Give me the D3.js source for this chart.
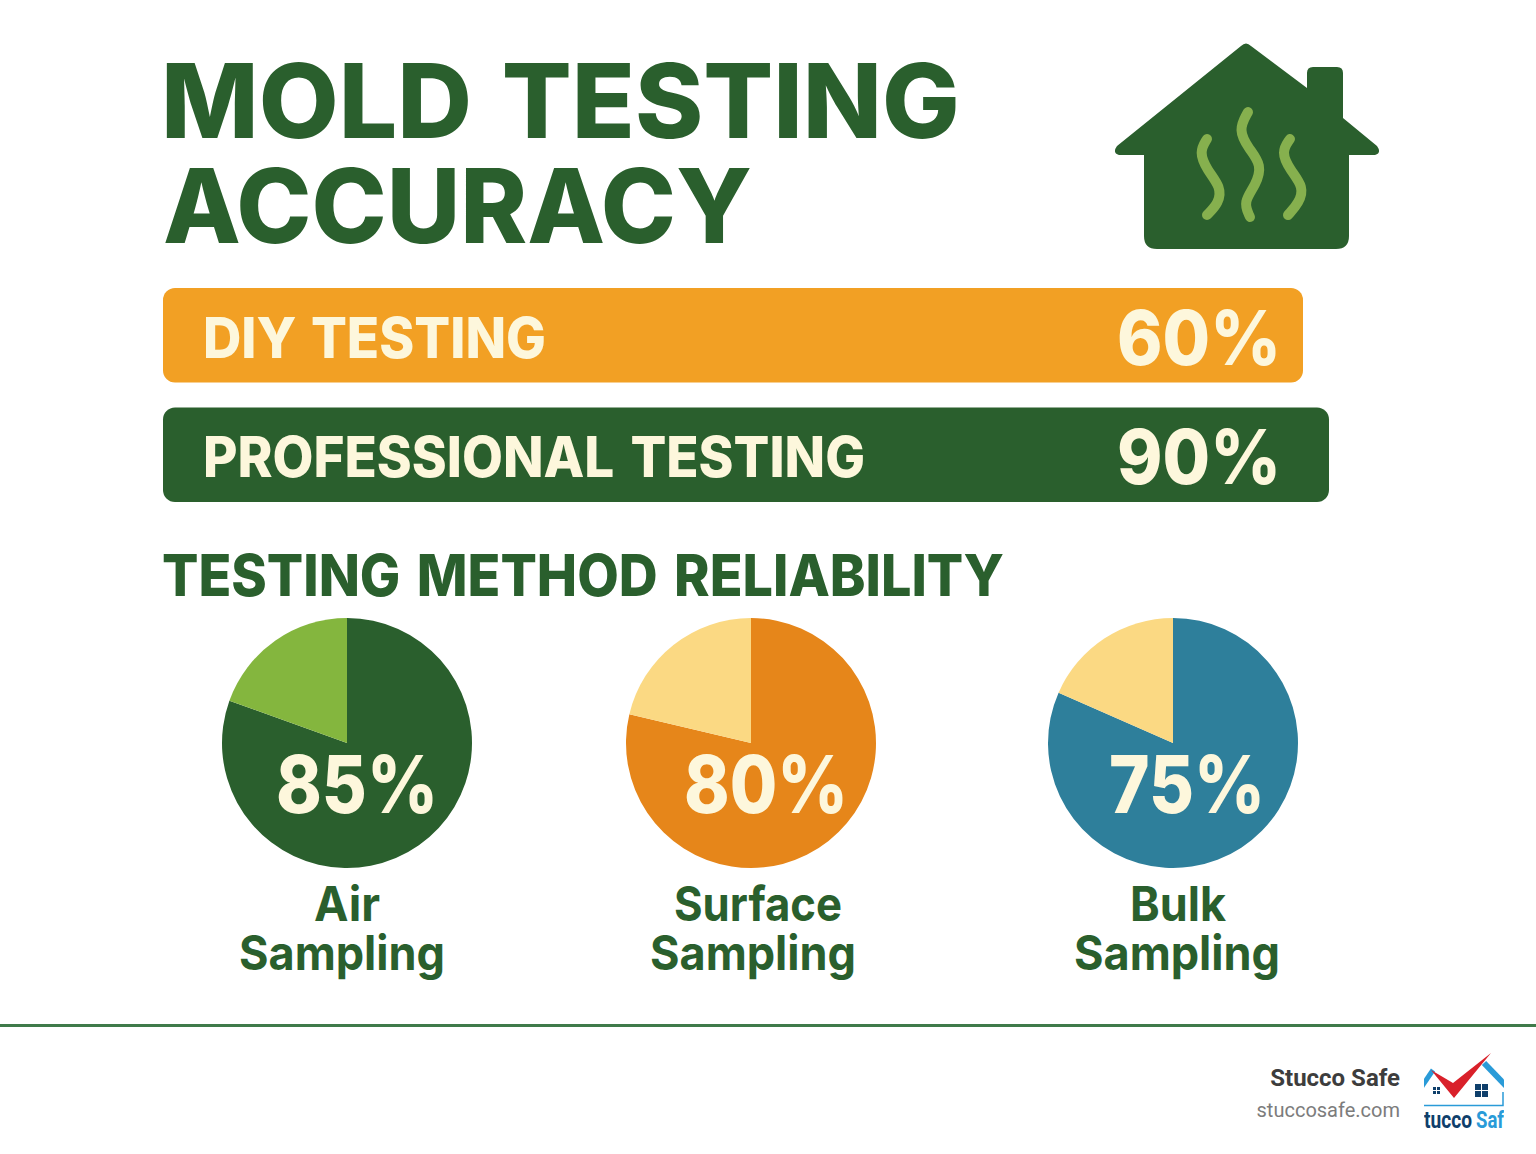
<!DOCTYPE html>
<html><head><meta charset="utf-8">
<script src="https://cdn.jsdelivr.net/npm/d3@7/dist/d3.min.js"></script>
<style>html,body{margin:0;padding:0;background:#fff}svg{display:block}text{font-family:Inter,sans-serif}</style>
</head><body><svg id="c" width="1536" height="1154"></svg>
<script>
const barLabels = ["DIY TESTING", "PROFESSIONAL TESTING"];
const barValues = [60, 90];
const pieNames = [["Air","Sampling"],["Surface","Sampling"],["Bulk","Sampling"]];
const pieLabels = [85, 80, 75];
const pieDrawnMajor = [80.5, 78.7, 81.6];

const GREEN="#2a5f2d", CREAM="#fdf7dc";
const svg=d3.select("#c");
svg.append("rect").attr("width",1536).attr("height",1154).attr("fill","#fff");

function fit(t,x0,x1,base,size,fill,weight,ws){
  return svg.append("text").attr("x",x0).attr("y",base).attr("font-size",size)
    .attr("font-weight",weight||800).attr("fill",fill).style("word-spacing",(ws||0)+"px")
    .attr("textLength",x1-x0).attr("lengthAdjust","spacingAndGlyphs").text(t);
}
fit("MOLD TESTING",161,960,138,103,GREEN,800,7);
fit("ACCURACY",163,752,243,103,GREEN);

// house icon
const house="M1241 46 Q1246 41 1251 46 L1307 88 L1307 73 Q1307 67 1313 67 L1337 67 Q1343 67 1343 73 L1343 118 L1377 146 Q1382 153 1375 155 L1349 155 L1349 236 Q1349 249 1336 249 L1157 249 Q1144 249 1144 236 L1144 155 L1119 155 Q1112 153 1117 146 Z";
svg.append("path").attr("d",house).attr("fill",GREEN);
const sq=[
 [[1207,139],[1199,152],[1207,170],[1221,187],[1219,203],[1207,215]],
 [[1248,112],[1238,130],[1249,149],[1262,165],[1256,185],[1243,202],[1250,217]],
 [[1290,139],[1281,152],[1290,170],[1304,187],[1299,203],[1288,215]]];
const ln=d3.line().curve(d3.curveBasis);
sq.forEach(p=>svg.append("path").attr("d",ln(p)).attr("fill","none").attr("stroke","#86b04e").attr("stroke-width",10).attr("stroke-linecap","round"));

// bars
const barEnd=d3.scaleLinear().domain([60,90]).range([1303,1329]);
const barY=d3.scaleBand().domain(barLabels).range([288,502]).paddingInner(0.21);
const barCols=["#f2a024",GREEN];
const lab=[[203,546,358,3],[203,865,477,5]];
barLabels.forEach((b,i)=>{
  svg.append("rect").attr("x",163).attr("y",barY(b)).attr("width",barEnd(barValues[i])-163)
    .attr("height",barY.bandwidth()).attr("rx",12).attr("fill",barCols[i]);
  fit(b,lab[i][0],lab[i][1],lab[i][2],56,CREAM,800,lab[i][3]);
  fit(barValues[i]+"%",1117,1281,lab[i][2]+7,76,CREAM);
});

fit("TESTING METHOD RELIABILITY",162,1004,596,58,GREEN,800,5);

// pies
const pieCx=d3.scaleOrdinal().domain([0,1,2]).range([347,751,1173]);
const pieCols=[[GREEN,"#84b63e"],["#e6861a","#fbd983"],["#2e7f9b","#fbd983"]];
const pie=d3.pie().sort(null);
const arc=d3.arc().innerRadius(0).outerRadius(125);
const pctX=[[276,438],[684,848],[1109,1265]];
const nameX=[[[314,380],[239,445]],[[674,842],[650,856]],[[1130,1226],[1074,1280]]];
pieLabels.forEach((v,i)=>{
  const g=svg.append("g").attr("transform",`translate(${pieCx(i)},743)`);
  g.selectAll("path").data(pie([pieDrawnMajor[i],100-pieDrawnMajor[i]])).join("path")
    .attr("d",arc).attr("fill",(d,j)=>pieCols[i][j]);
  fit(v+"%",pctX[i][0],pctX[i][1],813,80,CREAM);
  pieNames[i].forEach((n,k)=>fit(n,nameX[i][k][0],nameX[i][k][1],921+k*49,48,GREEN,700));
});

// footer
svg.append("rect").attr("x",0).attr("y",1024).attr("width",1536).attr("height",3).attr("fill","#3f7a4a");
svg.append("text").attr("x",1400).attr("y",1086).attr("text-anchor","end").attr("font-size",24)
  .attr("font-weight",700).attr("fill","#3d3d3d").style("font-family","Roboto").text("Stucco Safe");
svg.append("text").attr("x",1400).attr("y",1117).attr("text-anchor","end").attr("font-size",20)
  .attr("fill","#7c7c7c").style("font-family","Roboto").text("stuccosafe.com");

// logo
svg.append("clipPath").attr("id","lg").append("rect").attr("x",1424).attr("y",1050).attr("width",80).attr("height",90);
const L=svg.append("g").attr("clip-path","url(#lg)");
const BLUE="#2a9bd8",NAVY="#0f3f6b";
L.append("path").attr("d","M1418 1092 L1433 1070").attr("fill","none").attr("stroke",BLUE).attr("stroke-width",5);
L.append("path").attr("d","M1484 1063 L1510 1090").attr("fill","none").attr("stroke",BLUE).attr("stroke-width",6);
L.append("path").attr("d","M1431 1070 L1453 1083 L1491 1053 L1454 1098 Z").attr("fill","#d9202a");
L.append("path").attr("d","M1424 1105.5 L1503 1105.5 L1503 1092").attr("fill","none").attr("stroke",BLUE).attr("stroke-width",1.5);
[[1433,1087,7],[1475,1084,13]].forEach(w=>{
  L.append("rect").attr("x",w[0]).attr("y",w[1]).attr("width",w[2]).attr("height",w[2]).attr("fill",NAVY);
  L.append("path").attr("d",`M${w[0]+w[2]/2} ${w[1]}V${w[1]+w[2]}M${w[0]} ${w[1]+w[2]/2}H${w[0]+w[2]}`).attr("stroke","#fff").attr("stroke-width",1);
});
[["tucco",1424,1472,NAVY],["Saf",1476,1504,BLUE]].forEach(d=>{
  L.append("text").attr("x",d[1]).attr("y",1128).attr("font-size",23).attr("font-weight",700).attr("fill",d[3])
   .attr("textLength",d[2]-d[1]).attr("lengthAdjust","spacingAndGlyphs").style("font-family","Roboto").text(d[0]);
});
</script></body></html>
